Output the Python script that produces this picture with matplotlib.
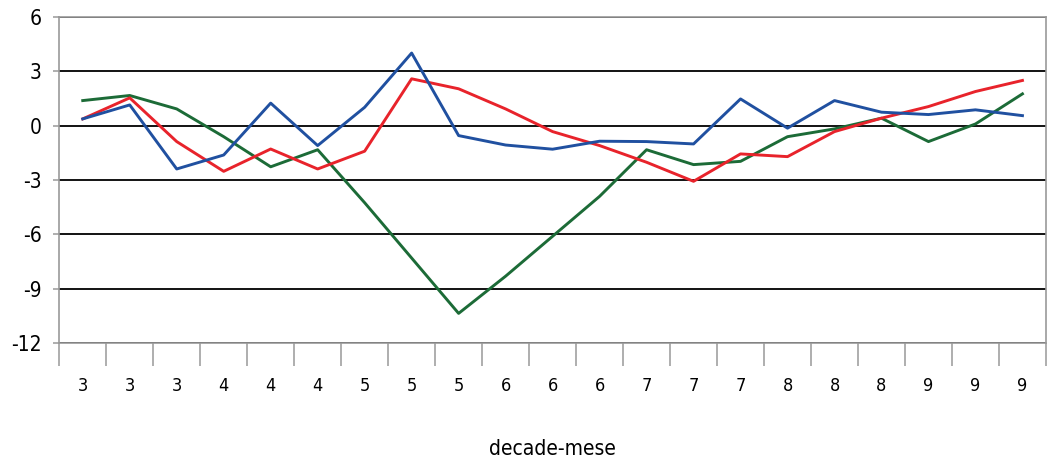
import matplotlib
matplotlib.use("Agg")
import matplotlib.pyplot as plt
import numpy as np

# etichette asse x (decade-mese)
mesi = ["3", "3", "3", "4", "4", "4", "5", "5", "5", "6", "6", "6",
        "7", "7", "7", "8", "8", "8", "9", "9", "9"]

serie_blu = [0.37, 1.14, -2.39, -1.62, 1.24, -1.10, 1.01, 4.00, -0.55, -1.07, -1.30,
             -0.86, -0.88, -1.01, 1.47, -0.14, 1.38, 0.74, 0.61, 0.87, 0.55]
serie_rossa = [0.37, 1.53, -0.88, -2.52, -1.29, -2.39, -1.41, 2.58, 2.03, 0.92, -0.33,
               -1.10, -2.02, -3.07, -1.56, -1.71, -0.33, 0.41, 1.05, 1.88, 2.49]
serie_verde = [1.38, 1.66, 0.92, -0.61, -2.27, -1.33, -4.25, -7.30, -10.35, -8.30, -6.10,
               -3.90, -1.33, -2.15, -1.97, -0.61, -0.18, 0.41, -0.88, 0.09, 1.75]

plt.rcParams['font.family'] = ['DejaVu Sans']
plt.rcParams['font.stretch'] = 'condensed'
plt.rcParams['axes.unicode_minus'] = False

fig = plt.figure(figsize=(10.58, 4.58), dpi=100)
ax = fig.add_axes([0.056, 0.2504, 0.9326, 0.713])

x = np.arange(len(mesi))
ax.plot(x, serie_verde, color='#1c6b37', lw=2.1, zorder=3)
ax.plot(x, serie_rossa, color='#e8232b', lw=2.1, zorder=3)
ax.plot(x, serie_blu, color='#2050a0', lw=2.1, zorder=3)

ax.set_xlim(-0.5, len(mesi) - 0.5)
ax.set_ylim(-12, 6)
ax.set_yticks(range(-12, 7, 3))
ax.set_axisbelow(True)
ax.grid(axis='y', color='black', lw=1.3)

ax.set_xticks(x)
ax.set_xticklabels(mesi)
ax.set_xticks(np.arange(-0.5, len(mesi), 1), minor=True)
ax.tick_params(axis='x', which='major', length=0, pad=24, labelsize=13)
ax.tick_params(axis='x', which='minor', length=16.5, color='#999999', width=1.1)
ax.tick_params(axis='y', length=4.5, color='#999999', width=1.1, labelsize=15, pad=8)

for s in ax.spines.values():
    s.set_color('#999999')
    s.set_linewidth(1.2)

ax.set_xlabel('decade-mese', fontsize=15, labelpad=32)

fig.savefig('out.png', dpi=100)
